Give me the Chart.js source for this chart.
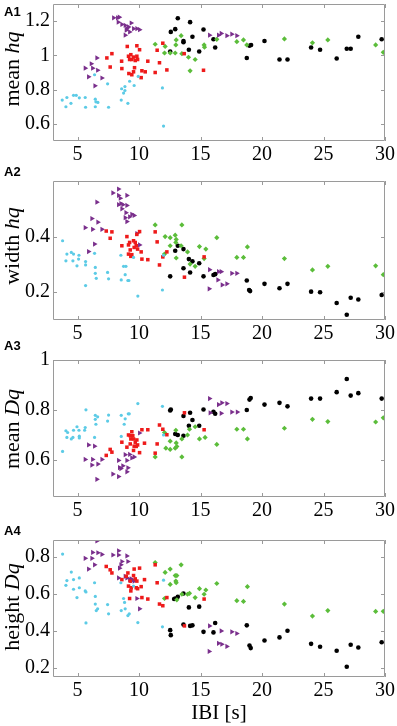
<!DOCTYPE html>
<html lang="en">
<head>
<meta charset="UTF-8">
<title>IBI scatter panels</title>
<script src="https://cdn.jsdelivr.net/npm/chart.js"></script>
<style>
    body { margin: 0; background: #fff; }
    #wrap { position: relative; width: 397px; height: 726px; overflow: hidden; }
    canvas { position: absolute; left: 0; }
    .tag { position: absolute; left: 4px; font: bold 13px "Liberation Sans", Arial, sans-serif; line-height: 13px; }
    .ylab {
        position: absolute; left: 12px; white-space: nowrap;
        font: 22px "Liberation Serif", "Times New Roman", serif; line-height: 22px;
        transform: translate(-50%, -50%) rotate(-90deg);
    }
</style>
</head>
<body>
<div id="wrap">
    <canvas id="c1" width="397" height="180" style="top:0px"></canvas>
    <canvas id="c2" width="397" height="192" style="top:167px"></canvas>
    <canvas id="c3" width="397" height="192" style="top:346px"></canvas>
    <canvas id="c4" width="397" height="200" style="top:526px"></canvas>

    <div class="tag" style="top:5px">A1</div>
    <div class="tag" style="top:165px">A2</div>
    <div class="tag" style="top:339px">A3</div>
    <div class="tag" style="top:524px">A4</div>

    <div class="ylab" style="top:69px">mean <i>hq</i></div>
    <div class="ylab" style="top:246px">width <i>hq</i></div>
    <div class="ylab" style="top:429px">mean <i>Dq</i></div>
    <div class="ylab" style="top:607px">height <i>Dq</i></div>
</div>

<script>
// x axis (IBI, s)
const xTicks = [5, 10, 15, 20, 25, 30];

// A1: mean hq
const a1Cyan = [[3.75,0.739],[4.13,0.754],[4.05,0.70],[4.46,0.72],[4.67,0.767],[4.89,0.767],[5.14,0.752],[5.62,0.754],[5.65,0.697],[6.44,0.744],[6.49,0.729],[6.44,0.70],[6.65,0.725],[6.38,0.887],[7.44,0.834],[7.52,0.697],[8.58,0.805],[8.85,0.818],[8.74,0.78],[8.85,0.795],[8.55,0.739],[9.09,0.72],[9.23,0.849],[9.60,0.824],[9.93,0.877],[11.9,0.81],[11.99,0.587]];
const a1Red = [[7.38,0.985],[7.79,1.01],[7.65,0.932],[8.58,0.966],[8.6,0.923],[9.04,1.052],[9.14,0.995],[9.23,0.976],[9.33,1.004],[9.41,0.976],[9.55,0.99],[9.69,0.97],[9.82,0.995],[9.63,0.928],[9.55,0.904],[9.41,0.887],[9.17,0.894],[9.82,1.056],[9.88,0.976],[10.04,1.033],[10.23,0.91],[10.17,0.87],[10.5,0.904],[10.71,0.966],[11.31,0.90],[11.47,1.03],[11.66,0.957],[11.93,1.071],[12.26,0.915],[13.67,1.01],[15.24,0.913]];
const a1Purple = [[7.93,1.219],[8.25,1.219],[8.39,1.223],[8.30,1.194],[8.60,1.181],[8.87,1.175],[9.0,1.156],[9.14,1.166],[9.36,1.189],[9.23,1.137],[9.55,1.156],[9.82,1.156],[10.04,1.15],[8.87,1.118],[8.95,1.147],[5.62,0.925],[6.11,0.951],[6.22,0.925],[6.57,0.985],[6.63,0.913],[5.89,0.875],[6.98,0.868],[6.41,0.822],[15.73,1.118],[16.46,1.118],[16.68,1.128],[17.14,1.115],[17.54,1.124],[17.95,1.115]];
const a1Green = [[11.31,1.065],[12.12,1.052],[12.07,1.014],[12.53,1.014],[12.99,1.061],[13.02,1.09],[12.94,1.014],[13.42,1.115],[13.48,1.01],[14.02,0.989],[14.56,0.976],[14.15,0.91],[15.29,1.061],[15.32,1.048],[16.32,1.094],[17.95,1.08],[18.49,1.09],[18.76,1.061],[21.82,1.096],[24.10,1.073],[25.35,1.09],[29.24,1.061],[29.86,1.018]];
const a1Black = [[12.58,1.137],[12.53,1.023],[12.94,1.153],[13.15,1.217],[13.61,1.084],[13.61,1.077],[14.15,1.194],[14.05,1.033],[14.34,1.109],[14.89,1.023],[15.24,1.151],[16.05,1.094],[16.19,1.046],[18.76,0.985],[18.98,1.056],[19.11,1.061],[20.20,1.084],[21.42,0.976],[22.07,0.976],[23.99,1.046],[24.72,1.033],[26.07,0.982],[26.89,1.039],[27.21,1.039],[27.83,1.109],[29.73,1.094]];
const a1YTicks = [0.6, 0.8, 1, 1.2];

// A2: width hq
const a2Cyan = [[3.78,0.385],[4.13,0.337],[4.05,0.313],[4.49,0.343],[4.67,0.337],[4.62,0.313],[4.95,0.295],[5.11,0.333],[5.08,0.319],[5.65,0.31],[5.65,0.298],[5.65,0.224],[6.38,0.34],[6.44,0.289],[6.44,0.268],[6.52,0.25],[7.44,0.271],[7.52,0.248],[8.52,0.333],[8.74,0.293],[8.93,0.293],[8.87,0.263],[8.55,0.244],[9.09,0.242],[9.17,0.242],[9.55,0.325],[9.90,0.186],[11.9,0.208],[11.99,0.333]];
const a2Red = [[7.33,0.42],[7.79,0.417],[7.65,0.394],[8.6,0.367],[9.01,0.40],[9.14,0.37],[9.23,0.379],[9.28,0.352],[9.33,0.329],[9.14,0.337],[9.41,0.335],[9.55,0.385],[9.69,0.379],[9.77,0.367],[9.60,0.361],[9.88,0.355],[9.82,0.408],[10.04,0.418],[10.17,0.345],[10.23,0.319],[10.71,0.317],[11.31,0.417],[11.47,0.381],[11.66,0.298],[11.93,0.327],[12.26,0.345],[13.69,0.254],[15.29,0.327]];
const a2Purple = [[8.33,0.571],[7.87,0.557],[8.33,0.548],[8.47,0.538],[9.01,0.548],[8.33,0.515],[8.52,0.519],[8.68,0.515],[9.01,0.512],[8.60,0.50],[8.93,0.486],[8.87,0.468],[9.23,0.471],[9.41,0.48],[9.60,0.476],[9.01,0.454],[6.57,0.524],[6.16,0.465],[6.65,0.452],[5.62,0.432],[6.22,0.426],[6.98,0.426],[6.38,0.373],[5.89,0.346],[9.82,0.411],[10.04,0.37],[15.73,0.281],[16.46,0.274],[16.68,0.274],[16.41,0.244],[16.76,0.226],[17.14,0.23],[17.54,0.268],[17.95,0.268],[15.70,0.212]];
const a2Green = [[11.31,0.442],[12.12,0.40],[12.07,0.337],[12.53,0.396],[12.53,0.367],[12.94,0.405],[13.02,0.39],[12.99,0.379],[13.02,0.323],[13.48,0.442],[13.42,0.367],[13.94,0.345],[14.15,0.301],[14.56,0.293],[14.91,0.364],[15.29,0.321],[15.43,0.355],[16.32,0.396],[17.95,0.325],[18.49,0.325],[18.81,0.363],[21.82,0.321],[24.10,0.28],[25.35,0.293],[29.24,0.295],[29.86,0.263]];
const a2Black = [[12.53,0.257],[12.94,0.349],[13.15,0.367],[13.61,0.355],[13.61,0.286],[14.05,0.319],[14.34,0.311],[14.15,0.271],[14.89,0.304],[15.24,0.257],[16.05,0.262],[16.19,0.265],[18.76,0.242],[19.03,0.204],[18.95,0.208],[20.20,0.23],[21.42,0.214],[22.07,0.23],[23.99,0.202],[24.72,0.20],[26.07,0.161],[26.89,0.119],[27.21,0.18],[27.83,0.174],[29.73,0.19]];
const a2YTicks = [0.2, 0.4];

// A3: mean Dq
const a3Cyan = [[3.78,0.633],[4.05,0.716],[4.19,0.709],[4.13,0.689],[4.49,0.683],[4.67,0.718],[4.62,0.689],[4.95,0.732],[5.14,0.694],[5.14,0.687],[5.11,0.718],[5.57,0.718],[5.62,0.729],[5.68,0.80],[6.44,0.778],[6.63,0.772],[6.44,0.762],[6.49,0.742],[6.38,0.689],[7.44,0.755],[7.52,0.779],[8.55,0.778],[8.87,0.764],[9.12,0.784],[9.20,0.784],[8.79,0.742],[8.55,0.693],[9.90,0.825],[11.9,0.814],[11.99,0.699]];
const a3Red = [[7.33,0.617],[7.65,0.641],[7.79,0.63],[8.60,0.67],[9.01,0.65],[9.14,0.699],[9.28,0.696],[9.41,0.712],[9.33,0.683],[9.28,0.663],[9.55,0.683],[9.60,0.654],[9.55,0.637],[9.69,0.67],[9.82,0.679],[9.88,0.659],[9.77,0.653],[10.04,0.628],[10.23,0.72],[10.44,0.666],[10.71,0.72],[11.31,0.626],[11.47,0.663],[11.66,0.739],[11.93,0.722],[12.26,0.70],[13.69,0.788],[15.29,0.72],[9.49,0.696]];
const a3Purple = [[5.89,0.659],[6.38,0.654],[5.62,0.601],[6.22,0.601],[6.98,0.601],[6.16,0.578],[6.65,0.582],[6.57,0.521],[7.87,0.542],[8.33,0.532],[8.33,0.597],[8.41,0.568],[8.52,0.564],[8.68,0.575],[8.87,0.62],[9.01,0.597],[9.09,0.567],[9.01,0.551],[9.23,0.621],[9.41,0.607],[9.60,0.611],[10.04,0.707],[15.73,0.845],[15.78,0.788],[16.46,0.821],[16.68,0.786],[16.73,0.828],[17.14,0.825],[17.54,0.791],[17.99,0.791]];
const a3Green = [[11.31,0.611],[12.07,0.709],[12.18,0.646],[12.53,0.674],[12.53,0.641],[12.99,0.718],[13.02,0.667],[12.94,0.646],[13.07,0.653],[13.48,0.683],[13.48,0.611],[13.94,0.699],[14.10,0.722],[14.56,0.732],[14.91,0.683],[15.37,0.689],[16.32,0.661],[17.95,0.722],[18.49,0.722],[18.81,0.683],[21.82,0.726],[24.10,0.762],[25.35,0.753],[29.24,0.751],[29.86,0.768]];
const a3Black = [[12.53,0.797],[12.58,0.801],[12.94,0.703],[13.15,0.699],[13.61,0.775],[13.61,0.696],[14.05,0.736],[14.15,0.788],[14.34,0.759],[14.89,0.736],[15.24,0.801],[16.05,0.792],[16.19,0.784],[18.76,0.799],[18.98,0.841],[19.08,0.847],[20.20,0.821],[21.42,0.828],[22.07,0.814],[23.99,0.845],[24.72,0.845],[26.07,0.871],[26.89,0.924],[27.21,0.857],[27.83,0.867],[29.73,0.845]];
const a3YTicks = [0.6, 0.8, 1];

// A4: height Dq
const a4Cyan = [[3.78,0.814],[4.05,0.645],[4.13,0.671],[4.49,0.717],[4.67,0.624],[4.67,0.676],[4.95,0.579],[5.14,0.685],[5.14,0.632],[5.62,0.615],[5.68,0.609],[5.68,0.442],[6.38,0.659],[6.44,0.585],[6.44,0.544],[6.52,0.509],[6.63,0.518],[7.44,0.541],[7.52,0.491],[8.52,0.659],[8.74,0.574],[8.82,0.553],[8.87,0.518],[8.55,0.509],[9.09,0.482],[9.20,0.491],[9.55,0.641],[9.90,0.444],[11.9,0.421],[11.99,0.673]];
const a4Red = [[7.33,0.747],[7.65,0.729],[7.79,0.712],[8.60,0.676],[8.96,0.694],[9.09,0.712],[9.28,0.668],[9.14,0.641],[9.36,0.632],[9.33,0.615],[9.23,0.574],[9.55,0.698],[9.60,0.733],[9.69,0.68],[9.77,0.632],[9.88,0.627],[9.82,0.668],[10.04,0.738],[10.17,0.638],[10.23,0.579],[10.44,0.676],[10.71,0.571],[11.31,0.756],[11.47,0.659],[11.66,0.544],[11.93,0.535],[12.26,0.579],[13.69,0.426],[15.29,0.571]];
const a4Purple = [[6.57,0.885],[5.62,0.791],[6.22,0.823],[6.16,0.791],[6.65,0.821],[6.98,0.812],[6.38,0.756],[5.89,0.733],[7.87,0.809],[8.33,0.832],[8.33,0.809],[8.41,0.738],[8.52,0.756],[8.60,0.774],[9.01,0.804],[9.09,0.774],[8.33,0.685],[8.87,0.694],[9.01,0.685],[9.23,0.676],[9.36,0.68],[9.41,0.671],[9.60,0.668],[9.82,0.574],[10.04,0.518],[15.73,0.426],[15.70,0.288],[16.46,0.332],[16.68,0.399],[16.73,0.327],[17.14,0.315],[17.54,0.394],[17.95,0.385]];
const a4Green = [[11.31,0.768],[12.12,0.715],[12.07,0.574],[12.53,0.733],[12.53,0.65],[12.94,0.698],[13.07,0.698],[12.99,0.668],[13.02,0.659],[13.07,0.567],[13.42,0.756],[13.48,0.597],[13.94,0.597],[14.10,0.602],[14.56,0.579],[14.91,0.627],[15.29,0.597],[15.43,0.62],[16.32,0.655],[17.95,0.562],[18.49,0.558],[18.81,0.638],[21.82,0.544],[24.10,0.479],[25.35,0.509],[29.24,0.504],[29.86,0.505]];
const a4Black = [[12.53,0.403],[12.58,0.376],[12.94,0.574],[12.85,0.571],[13.15,0.583],[13.61,0.601],[13.61,0.433],[14.05,0.526],[14.15,0.426],[14.34,0.429],[14.89,0.53],[15.24,0.394],[16.05,0.391],[16.19,0.442],[18.76,0.429],[18.98,0.32],[19.08,0.306],[20.20,0.347],[21.42,0.364],[22.07,0.40],[23.99,0.329],[24.72,0.313],[26.07,0.292],[26.89,0.205],[27.21,0.324],[27.83,0.309],[29.73,0.338]];
const a4YTicks = [0.2, 0.4, 0.6, 0.8];

const serif = 'Liberation Serif, Times New Roman, serif';
const boxColor = '#9a9a9a';

// MATLAB style box with inward ticks on all four sides
const boxTicks = {
    id: 'boxTicks',
    afterDraw(chart, args, opts) {
        const { ctx, chartArea: a, scales } = chart;
        ctx.save();
        ctx.strokeStyle = boxColor;
        ctx.lineWidth = 1;
        ctx.beginPath();
        ctx.rect(Math.round(a.left) + 0.5, Math.round(a.top) + 0.5,
                 Math.round(a.right - a.left) - 1, Math.round(a.bottom - a.top) - 1);
        xTicks.forEach(v => {
            const px = Math.round(scales.x.getPixelForValue(v)) + 0.5;
            ctx.moveTo(px, a.bottom); ctx.lineTo(px, a.bottom - 4);
            ctx.moveTo(px, a.top); ctx.lineTo(px, a.top + 4);
        });
        opts.yTicks.forEach(v => {
            const py = Math.round(scales.y.getPixelForValue(v)) + 0.5;
            ctx.moveTo(a.left, py); ctx.lineTo(a.left + 4, py);
            ctx.moveTo(a.right, py); ctx.lineTo(a.right - 4, py);
        });
        ctx.stroke();
        ctx.restore();
    }
};

function pts(arr) {
    return arr.map(p => ({ x: p[0], y: p[1] }));
}

function makePanel(id, groups, yMin, yMax, yTicks, padTop, xHeight, showTitle) {
    const [cyan, red, purple, green, black] = groups;
    new Chart(document.getElementById(id), {
        type: 'scatter',
        data: {
            datasets: [
                { data: pts(cyan), pointStyle: 'circle', pointRadius: 1.6, backgroundColor: '#5ccbe6', borderWidth: 0 },
                { data: pts(red), pointStyle: 'rect', pointRadius: 2.5, backgroundColor: '#ee1a1a', borderWidth: 0 },
                { data: pts(purple), pointStyle: 'triangle', rotation: 90, pointRadius: 3, backgroundColor: '#7a2f8c', borderWidth: 0 },
                { data: pts(green), pointStyle: 'rectRot', pointRadius: 2.6, backgroundColor: '#5bbd3a', borderWidth: 0 },
                { data: pts(black), pointStyle: 'circle', pointRadius: 2.3, backgroundColor: '#000', borderWidth: 0 },
            ],
        },
        options: {
            responsive: false,
            animation: false,
            events: [],
            layout: { padding: { top: padTop, right: 12, left: 0, bottom: 0 } },
            plugins: {
                legend: { display: false },
                tooltip: { enabled: false },
                boxTicks: { yTicks },
            },
            scales: {
                x: {
                    type: 'linear', min: 3, max: 30,
                    afterBuildTicks: s => { s.ticks = xTicks.map(v => ({ value: v })); },
                    afterFit: s => { s.height = xHeight; s.paddingLeft = 0; s.paddingRight = 0; },
                    grid: { display: false, drawTicks: false },
                    border: { display: false },
                    ticks: { color: '#000', font: { family: serif, size: 20 }, padding: 2, maxRotation: 0,
                             callback: v => String(v) },
                    title: {
                        display: showTitle, text: 'IBI [s]', color: '#000',
                        font: { family: serif, size: 21 }, padding: { top: 0, bottom: 0 },
                    },
                },
                y: {
                    type: 'linear', min: yMin, max: yMax,
                    afterBuildTicks: s => { s.ticks = yTicks.map(v => ({ value: v })); },
                    afterFit: s => { s.width = 53; s.paddingTop = 0; s.paddingBottom = 0; },
                    grid: { display: false, drawTicks: false },
                    border: { display: false },
                    ticks: { color: '#000', font: { family: serif, size: 20 }, padding: 3,
                             callback: v => String(+v.toFixed(2)) },
                },
            },
        },
        plugins: [boxTicks],
    });
}

makePanel('c1', [a1Cyan, a1Red, a1Purple, a1Green, a1Black], 0.5, 1.3, a1YTicks, 2, 39, false);
makePanel('c2', [a2Cyan, a2Red, a2Purple, a2Green, a2Black], 0.1, 0.6, a2YTicks, 14, 39, false);
makePanel('c3', [a3Cyan, a3Red, a3Purple, a3Green, a3Black], 0.45, 1.0, a3YTicks, 14, 41, false);
makePanel('c4', [a4Cyan, a4Red, a4Purple, a4Green, a4Black], 0.15, 0.89, a4YTicks, 14, 49, true);
</script>
</body>
</html>
